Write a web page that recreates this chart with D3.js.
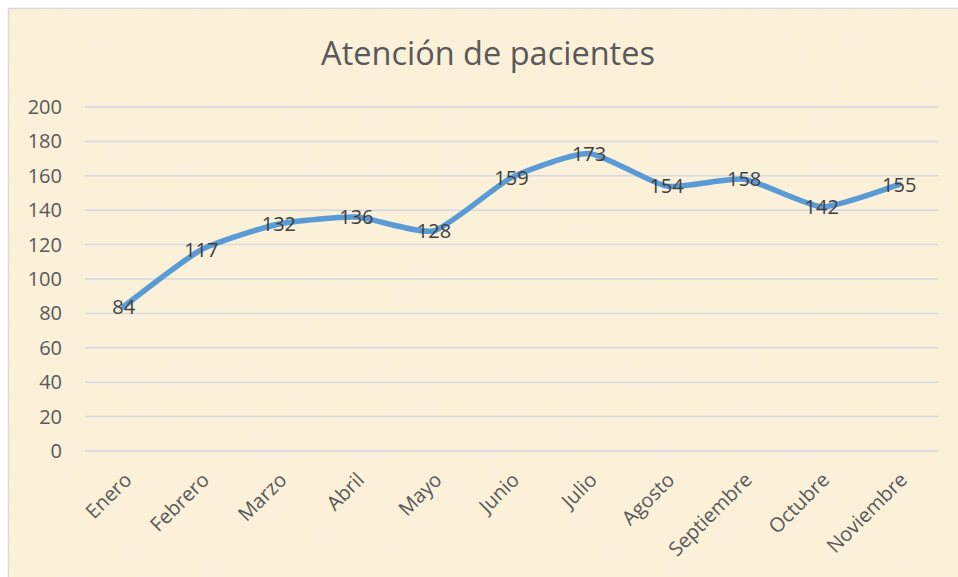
<!DOCTYPE html>
<html><head><meta charset="utf-8">
<script src="https://cdn.jsdelivr.net/npm/d3@7"></script>
<style>html,body{margin:0;padding:0;background:#fff;}svg{display:block;}</style>
</head><body>
<svg id="c" width="958" height="577"></svg>
<script>
const categories = ["Enero","Febrero","Marzo","Abril","Mayo","Junio","Julio","Agosto","Septiembre","Octubre","Noviembre"];
const values = [84,117,132,136,128,159,173,154,158,142,155];
const yTicks = [0,20,40,60,80,100,120,140,160,180,200];
const title = "Atención de pacientes";

(function(){
const svg = d3.select("#c");
const W = 958, H = 577;
const font = "'Open Sans', sans-serif";

const defs = svg.append("defs");
const f = defs.append("filter").attr("id","tex").attr("x",0).attr("y",0).attr("width","100%").attr("height","100%");
f.append("feTurbulence").attr("type","fractalNoise").attr("baseFrequency","0.025").attr("numOctaves",3).attr("seed",4).attr("result","n");
f.append("feColorMatrix").attr("in","n").attr("type","matrix")
 .attr("values","0 0 0 0 0.96  0 0 0 0 0.90  0 0 0 0 0.74  0 0 0 0.6 -0.15").attr("result","c");
f.append("feComposite").attr("in","c").attr("in2","SourceGraphic").attr("operator","over");

svg.append("rect").attr("x",0).attr("y",0).attr("width",W).attr("height",H).attr("fill","#fff");
svg.append("rect").attr("x",8.5).attr("y",8.5).attr("width",W+10).attr("height",H+10)
  .attr("fill","#FBF0D8").attr("stroke","#D9D9D9").attr("stroke-width",1.5);
svg.append("rect").attr("x",9.5).attr("y",9.5).attr("width",W-9.5).attr("height",H-9.5)
  .attr("fill","#FBF0D8").attr("filter","url(#tex)").attr("opacity",0.7);

const pl = 85, pr = 938, pt = 107, pb = 451;
const x = d3.scaleBand().domain(categories).range([pl,pr]);
const y = d3.scaleLinear().domain([0,200]).range([pb,pt]);

svg.append("text").attr("x",488).attr("y",65).attr("text-anchor","middle")
  .attr("font-family",font).attr("font-size",32.5).attr("fill","#595959").text(title);

const g = svg.append("g");
g.selectAll("line.grid").data(yTicks).join("line")
  .attr("x1",pl).attr("x2",pr).attr("y1",d=>y(d)).attr("y2",d=>y(d))
  .attr("stroke","#D5D8E0").attr("stroke-width",1.5);

const yAxis = svg.append("g").attr("transform",`translate(${pl},0)`)
  .call(d3.axisLeft(y).tickValues(yTicks).tickSize(0).tickPadding(23));
yAxis.select(".domain").remove();
yAxis.selectAll("text").attr("font-family",font).attr("font-size",20).attr("fill","#595959");

const xAxis = svg.append("g").attr("transform",`translate(0,${pb})`)
  .call(d3.axisBottom(x).tickSize(0));
xAxis.select(".domain").remove();
xAxis.selectAll("text").attr("font-family",font).attr("font-size",20).attr("fill","#595959")
  .attr("text-anchor","end").attr("dy",0)
  .attr("transform","translate(7,28) rotate(-45)");

const line = d3.line().x((d,i)=>x(categories[i])+x.bandwidth()/2).y(d=>y(d)).curve(d3.curveCardinal.tension(0.45));
svg.append("path").datum(values).attr("d",line).attr("fill","none")
  .attr("stroke","#5B9BD5").attr("stroke-width",5.5).attr("stroke-linecap","round").attr("stroke-linejoin","round");

svg.selectAll("text.lbl").data(values).join("text").attr("class","lbl")
  .attr("x",(d,i)=>x(categories[i])+x.bandwidth()/2).attr("y",d=>y(d))
  .attr("dy","0.36em").attr("text-anchor","middle")
  .attr("font-family",font).attr("font-size",20).attr("fill","#404040").text(d=>d);
})();
</script>
</body></html>
